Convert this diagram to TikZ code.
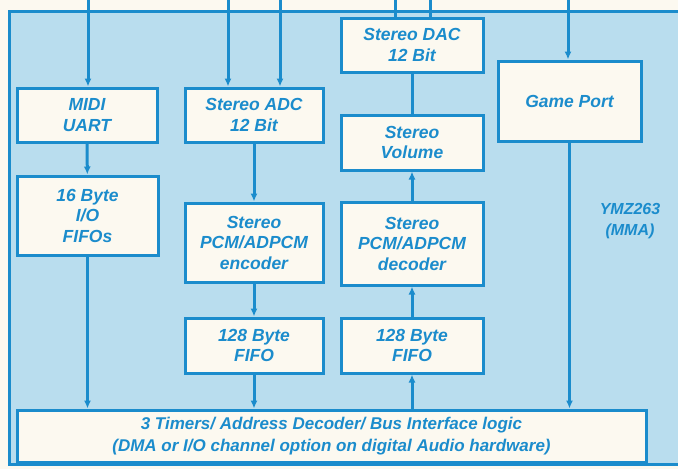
\documentclass[tikz,border=0pt]{standalone}
\usepackage{fontspec}
\setmainfont{Liberation Sans}
\usetikzlibrary{arrows.meta, positioning, calc}

\definecolor{scanblue}{HTML}{1B8CCC}
\definecolor{panelblue}{HTML}{B9DDEE}
\definecolor{paper}{HTML}{FCF9F0}

\tikzset{
  block/.style={draw=scanblue, fill=paper, line width=3pt, align=center,
    font=\fontsize{17.5}{20.5}\selectfont\bfseries\itshape, text=scanblue},
  link/.style={draw=scanblue, line width=3pt}
}

\begin{document}
\begin{tikzpicture}[x=1pt, y=-1pt, >={Latex[length=8pt,width=7pt]}]
  \useasboundingbox (0,0) rectangle (678,469);
  \clip (0,0) rectangle (678,469);
  \fill[paper] (0,0) rectangle (678,469);
  \draw[link, fill=panelblue] (9,11) rectangle (700,464);

  % left column
  \node[block, minimum width=140pt, minimum height=54pt] (midi) at (87,115) {MIDI\\UART};
  \node[block, minimum width=141pt, minimum height=79pt] (fifos) at (87.5,215.5) {16 Byte\\I/O\\FIFOs};
  % record path
  \node[block, minimum width=138pt, minimum height=54pt] (adc) at (254,115) {Stereo ADC\\12 Bit};
  \node[block, minimum width=138pt, minimum height=79pt] (enc) at (254,242.5) {Stereo\\PCM/ADPCM\\encoder};
  \node[block, minimum width=138pt, minimum height=55pt] (fifol) at (254,345.5) {128 Byte\\FIFO};
  % playback path
  \node[block, minimum width=142pt, minimum height=54pt] (dac) at (412,45) {Stereo DAC\\12 Bit};
  \node[block, minimum width=142pt, minimum height=55pt] (vol) at (412,142.5) {Stereo\\Volume};
  \node[block, minimum width=142pt, minimum height=83pt] (dec) at (412,243.5) {Stereo\\PCM/ADPCM\\decoder};
  \node[block, minimum width=142pt, minimum height=55pt] (fifor) at (412,345.5) {128 Byte\\FIFO};
  % game port and bus
  \node[block, minimum width=143pt, minimum height=80pt] (game) at (569.5,101) {Game Port};
  \node[block, minimum width=629pt, minimum height=52pt, font=\fontsize{17}{22}\selectfont\bfseries\itshape] (bus) at (331.5,436)
    {3 Timers/ Address Decoder/ Bus Interface logic\\(DMA or I/O channel option on digital Audio hardware)};
  \node[font=\fontsize{16}{21}\selectfont\bfseries\itshape, text=scanblue, align=center] (chip) at (630,221) {YMZ263\\(MMA)};

  \coordinate (midiin) at (88,0);
  \coordinate (adcina) at (228,0);
  \coordinate (adcinb) at (280,0);
  \coordinate (dacouta) at (395,0);
  \coordinate (dacoutb) at (430,0);
  \coordinate (gamein) at (568,0);

  \draw[link, ->] (midiin) -- (midiin |- midi.north);
  \draw[link, ->] (midi) -- (fifos);
  \draw[link, ->] (fifos) -- (fifos |- bus.north);
  \draw[link, ->] (adcina) -- (adcina |- adc.north);
  \draw[link, ->] (adcinb) -- (adcinb |- adc.north);
  \draw[link, ->] (adc) -- (enc);
  \draw[link, ->] (enc) -- (fifol);
  \draw[link, ->] (fifol) -- (fifol |- bus.north);
  \draw[link, ->] (fifor |- bus.north) -- (fifor);
  \draw[link, ->] (fifor) -- (dec);
  \draw[link, ->] (dec) -- (vol);
  \draw[link] (vol) -- (dac);
  \draw[link] (dacouta |- dac.north) -- (dacouta);
  \draw[link] (dacoutb |- dac.north) -- (dacoutb);
  \draw[link, ->] (gamein) -- (gamein |- game.north);
  \draw[link, ->] (game) -- (game |- bus.north);
\end{tikzpicture}
\end{document}
